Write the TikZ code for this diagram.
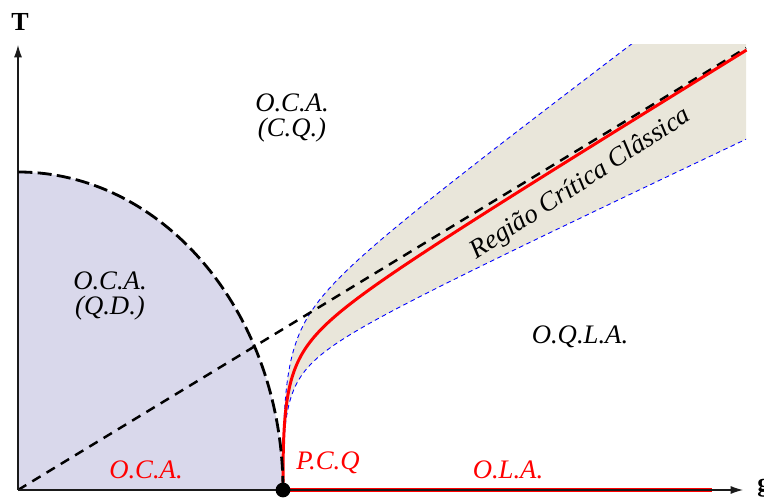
\documentclass[tikz,border=0pt]{standalone}
\usepackage{fontspec}
\setmainfont{Liberation Serif}
\usepackage{tikz}
\usepackage{xcolor}
\usetikzlibrary{arrows.meta,positioning,calc}
\definecolor{Lavender}{HTML}{D9D8EB}
\definecolor{Sand}{HTML}{E9E6DA}
\definecolor{Ink}{HTML}{1A1A1A}

\begin{document}
\begin{tikzpicture}[
  x=0.02cm,y=0.02cm,
  declare function={s(\t)=\t/(\t^3+20)^(1/3);},
  lbl/.style={font=\fontsize{15.2}{13.8}\selectfont\itshape,align=center,inner sep=0pt},
  redlbl/.style={lbl,text=red},
  axis/.style={-{Latex[length=7pt,width=4.5pt]},line width=0.6pt,draw=Ink},
  border/.style={draw=blue,line width=0.5pt,dash pattern=on 2.6pt off 2pt},
  crit/.style={draw=red,line width=1.7pt},
  tline/.style={line width=1.4pt,dash pattern=on 5.5pt off 4pt}
]
\useasboundingbox (-18,-7) rectangle (746,490);
\coordinate (O) at (0,0);
\coordinate (gc) at (265,0);
\coordinate (tc) at (0,318);
\coordinate (corner) at (728,442);

\fill[Lavender] (O) -- (gc) arc[start angle=0,end angle=90,x radius=265,y radius=318] -- cycle;

\begin{scope}
  \clip (O) rectangle (728,445);
  \fill[Sand] plot[domain=0:7.74,samples=120] ({265+\x^3},{0.75*\x^3+188*s(\x)})
    -- plot[domain=7.74:0,samples=120] ({265+\x^3},{0.47*\x^3+135*s(\x)}) -- cycle;
  \draw[border] plot[domain=0:7.74,samples=120] ({265+\x^3},{0.75*\x^3+188*s(\x)});
  \draw[border] plot[domain=0:7.74,samples=120] ({265+\x^3},{0.47*\x^3+135*s(\x)});
\end{scope}

\draw[tline] (O) -- (corner);
\draw[crit] plot[domain=0:7.74,samples=120] ({265+\x^3},{0.613*\x^3+158*s(\x)});

\coordinate (olaend) at (694,0);
\draw[red,line width=2.8pt] (gc) -- (olaend);
\draw[axis] (O) -- (725,0) coordinate (gaxis);
\draw[axis] (O) -- (0,445) coordinate (taxis);
\draw[line width=1.6pt,dash pattern=on 8pt off 3pt] (gc) arc[start angle=0,end angle=90,x radius=265,y radius=318];
\fill (gc) circle[radius=4.2pt];

\node[font=\fontsize{14.8}{16}\selectfont\bfseries] (tlabel) at (2,468) {T};
\node[font=\fontsize{14.8}{16}\selectfont\bfseries,anchor=west,inner sep=0pt] (glabel) at (739,2) {g};

\node[lbl] (ocacq) at (274,372) {O.C.A.\\(C.Q.)};
\node[lbl] (ocaqd) at (92,194) {O.C.A.\\(Q.D.)};
\node[lbl] (oqla) at (562,153) {O.Q.L.A.};
\node[lbl,rotate=33] (rcc) at (563,306) {Região Crítica Clâssica};
\node[redlbl] (ocalow) at (128,20) {O.C.A.};
\node[redlbl] (pcq) at (310,27) {P.C.Q};
\node[redlbl] (ola) at (490,20) {O.L.A.};
\end{tikzpicture}
\end{document}
